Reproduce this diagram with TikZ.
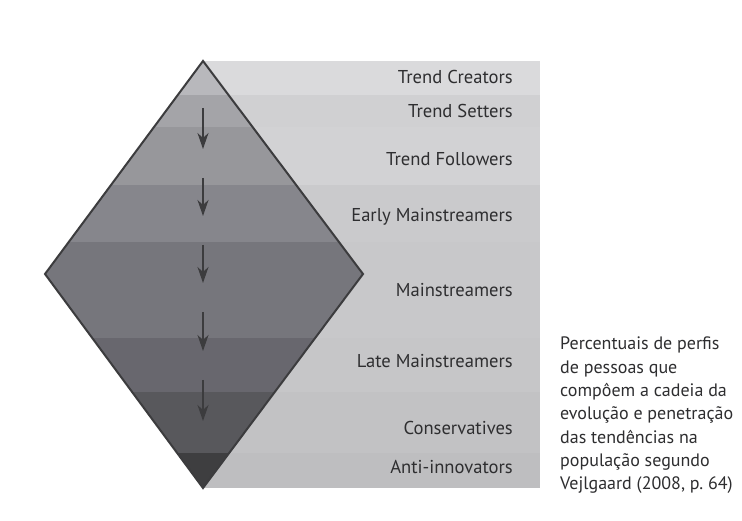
\documentclass[tikz,border=0pt]{standalone}
\usepackage{fontspec}
\setmainfont{PT Sans}
\usetikzlibrary{arrows.meta}
\definecolor{inkgray}{HTML}{2E2E30}
\definecolor{edgegray}{HTML}{3C3C3E}
% panel bands, top to bottom
\definecolor{pA}{HTML}{DADADC}
\definecolor{pB}{HTML}{D0D0D2}
\definecolor{pC}{HTML}{D2D2D4}
\definecolor{pD}{HTML}{CACACC}
\definecolor{pE}{HTML}{C8C8CA}
\definecolor{pF}{HTML}{C6C6C8}
\definecolor{pG}{HTML}{C2C2C4}
\definecolor{pH}{HTML}{BEBEC0}
% diamond bands, top to bottom
\definecolor{dA}{HTML}{B8B8BC}
\definecolor{dB}{HTML}{A4A4A8}
\definecolor{dC}{HTML}{97979B}
\definecolor{dD}{HTML}{86868C}
\definecolor{dE}{HTML}{76767C}
\definecolor{dF}{HTML}{68676E}
\definecolor{dG}{HTML}{58585C}
\definecolor{dH}{HTML}{3E3E40}
\begin{document}
\begin{tikzpicture}[x=1pt,y=-1pt,
  tier/.style={anchor=east, inner sep=0pt, text=inkgray,
    font=\fontsize{18.6}{22}\selectfont},
  note/.style={anchor=north west, inner sep=0pt, text=inkgray, align=left,
    font=\fontsize{18}{23.3}\selectfont},
  flow/.style={draw=edgegray, line width=1.6pt,
    -{Stealth[length=16pt,width=11pt,inset=5pt]}},
  outline/.style={draw=edgegray, line width=2pt, line join=miter}]
\useasboundingbox (0,0) rectangle (742,521);
\fill[white] (0,0) rectangle (742,521);

% corners of the diamond
\coordinate (top) at (203,61);
\coordinate (right) at (363,274);
\coordinate (bottom) at (203,488);
\coordinate (left) at (45,274);

% horizontal bands of the panel behind the labels
\foreach \ya/\yb/\c in {61/95/pA,95/127/pB,127/185/pC,185/242/pD,
                        242/338/pE,338/392/pF,392/453/pG,453/488/pH}
  \fill[\c] (203,\ya) rectangle (540,\yb);

% the diamond, banded the same way
\begin{scope}
  \clip (top) -- (right) -- (bottom) -- (left) -- cycle;
  \foreach \ya/\yb/\c in {61/95/dA,95/127/dB,127/185/dC,185/242/dD,
                          242/338/dE,338/392/dF,392/453/dG,453/488/dH}
    \fill[\c] (40,\ya) rectangle (370,\yb);
\end{scope}
\draw[outline] (top) -- (right) -- (bottom) -- (left) -- cycle;

% downward flow through the tiers
\foreach \i/\ya/\yb in {1/108/149,2/178/216,3/245/283,4/312/351,5/380/421}{
  \coordinate (s\i) at (203,\ya);
  \coordinate (e\i) at (203,\yb);
  \draw[flow] (s\i) -- (e\i);
}

% tier labels
\node[tier] (creators) at (513,77) {Trend Creators};
\node[tier] (setters) at (513,111) {Trend Setters};
\node[tier] (followers) at (513,159) {Trend Followers};
\node[tier] (early) at (513,217) {Early Mainstreamers};
\node[tier] (main) at (513,290) {Mainstreamers};
\node[tier] (late) at (513,361) {Late Mainstreamers};
\node[tier] (cons) at (513,428) {Conservatives};
\node[tier] (anti) at (513,467) {Anti-innovators};

% caption
\node[note] (caption) at (560,337) {Percentuais de perfis\\de pessoas que\\comp\^oem a cadeia da\\evolu\c{c}\~ao e penetra\c{c}\~ao\\das tend\^encias na\\popula\c{c}\~ao segundo\\Vejlgaard (2008, p.~64)};
\end{tikzpicture}
\end{document}
